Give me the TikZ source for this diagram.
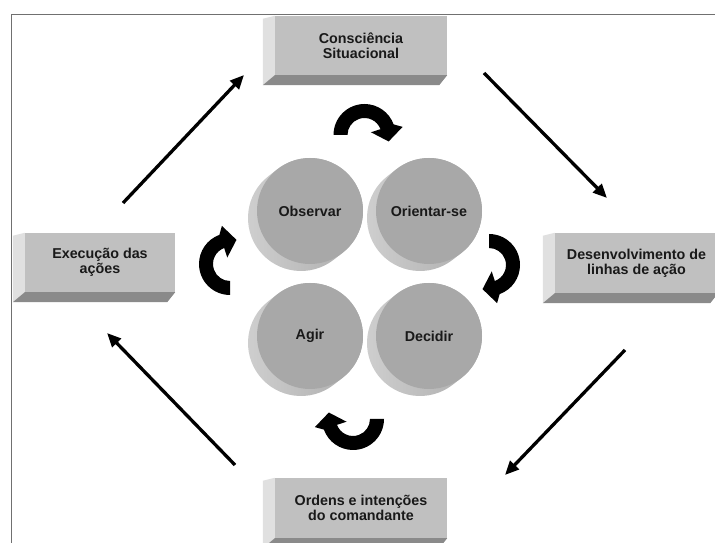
\documentclass[tikz,border=0pt]{standalone}
\usepackage{fontspec}
\setmainfont{Liberation Sans}
\usetikzlibrary{arrows.meta,calc}
\definecolor{boxface}{RGB}{192,192,192}
\definecolor{boxleft}{RGB}{224,224,224}
\definecolor{boxbottom}{RGB}{138,138,138}
\definecolor{discface}{RGB}{168,168,168}
\definecolor{discL}{RGB}{208,208,208}
\definecolor{discR}{RGB}{170,170,170}
\definecolor{framegray}{RGB}{112,112,112}
\definecolor{txt}{RGB}{25,25,25}
\tikzset{
  boxnode/.style={fill=boxface, inner sep=0pt, align=center, text=txt,
    font=\fontsize{14.3}{15}\selectfont\bfseries},
  discnode/.style={circle, fill=discface, minimum size=106pt, inner sep=0pt, text=txt,
    font=\fontsize{14.3}{15}\selectfont\bfseries},
  straightarrow/.style={line width=3.3pt, -{Triangle[length=14pt,width=12pt]}},
  curvefill/.style={fill=black}
}
\newcommand\bevel[1]{%
  \fill[boxleft] (#1.north west) -- ++(-12,-3) -- ($(#1.south west)+(-12,-10)$) -- (#1.south west) -- cycle;
  \fill[boxbottom] (#1.south west) -- ($(#1.south west)+(-12,-10)$) -- ($(#1.south east)+(-8,-10)$) -- (#1.south east) -- cycle;
}
\newcommand\discside[2]{% centre x, Y of front face
  \shade[left color=discL, right color=discR]
    ($(#1,#2)+(-9,-7)+(128:53)$) arc[start angle=128, end angle=308, radius=53]
    -- ($(#1,#2)+(308:53)$) arc[start angle=308, end angle=488, radius=53] -- cycle;
}
\newcommand\curvarr[3]{%
  \begin{scope}[shift={(#1,#2)}, rotate=#3]
    \fill[curvefill] (180:31) arc[start angle=180, end angle=20, radius=31]
      -- (12:39) -- (-15:25) -- (23:7) -- (20:17)
      arc[start angle=20, end angle=180, radius=17] -- cycle;
  \end{scope}
}
\begin{document}
\begin{tikzpicture}[x=1pt,y=1pt]
\useasboundingbox (0,0) rectangle (715,543);
\fill[white] (0,0) rectangle (715,543);
% frame
\draw[framegray, line width=1.6pt] (11.5,0) -- (11.5,528.5) -- (716,528.5);

% boxes
\node[boxnode, minimum width=172pt, minimum height=59pt] (sa) at (361,497.5) {Consciência\\Situacional};
\bevel{sa}
\node[boxnode, minimum width=150pt, minimum height=59pt] (ex) at (100,280.5) {Execução das\\ações};
\bevel{ex}
\node[boxnode, minimum width=163pt, minimum height=60pt] (dl) at (636.5,280) {Desenvolvimento de\\linhas de ação};
\bevel{dl}
\node[boxnode, minimum width=172pt, minimum height=60pt] (oc) at (361,35) {Ordens e intenções\\do comandante};
\bevel{oc}

% discs
\discside{310}{332}
\node[discnode] (ob) at (310,332) {Observar};
\discside{429}{332}
\node[discnode] (or) at (429,332) {Orientar-se};
\discside{310}{207}
\node[discnode] (ag) at (310,207) {Agir};
\discside{429}{207}
\node[discnode] (de) at (429,207) {Decidir};

% curved arrows
\curvarr{364.5}{408}{0}
\curvarr{489}{278}{-90}
\curvarr{353}{124}{180}
\curvarr{230}{279}{90}

% straight arrows
\coordinate (a1s) at (123,340);
\coordinate (a1e) at (244,468);
\coordinate (a2s) at (484,470);
\coordinate (a2e) at (607,345);
\coordinate (a3s) at (625,193);
\coordinate (a3e) at (505,68);
\coordinate (a4s) at (235,78);
\coordinate (a4e) at (107,210);
\draw[straightarrow] (a1s) -- (a1e);
\draw[straightarrow] (a2s) -- (a2e);
\draw[straightarrow] (a3s) -- (a3e);
\draw[straightarrow] (a4s) -- (a4e);
\end{tikzpicture}
\end{document}
